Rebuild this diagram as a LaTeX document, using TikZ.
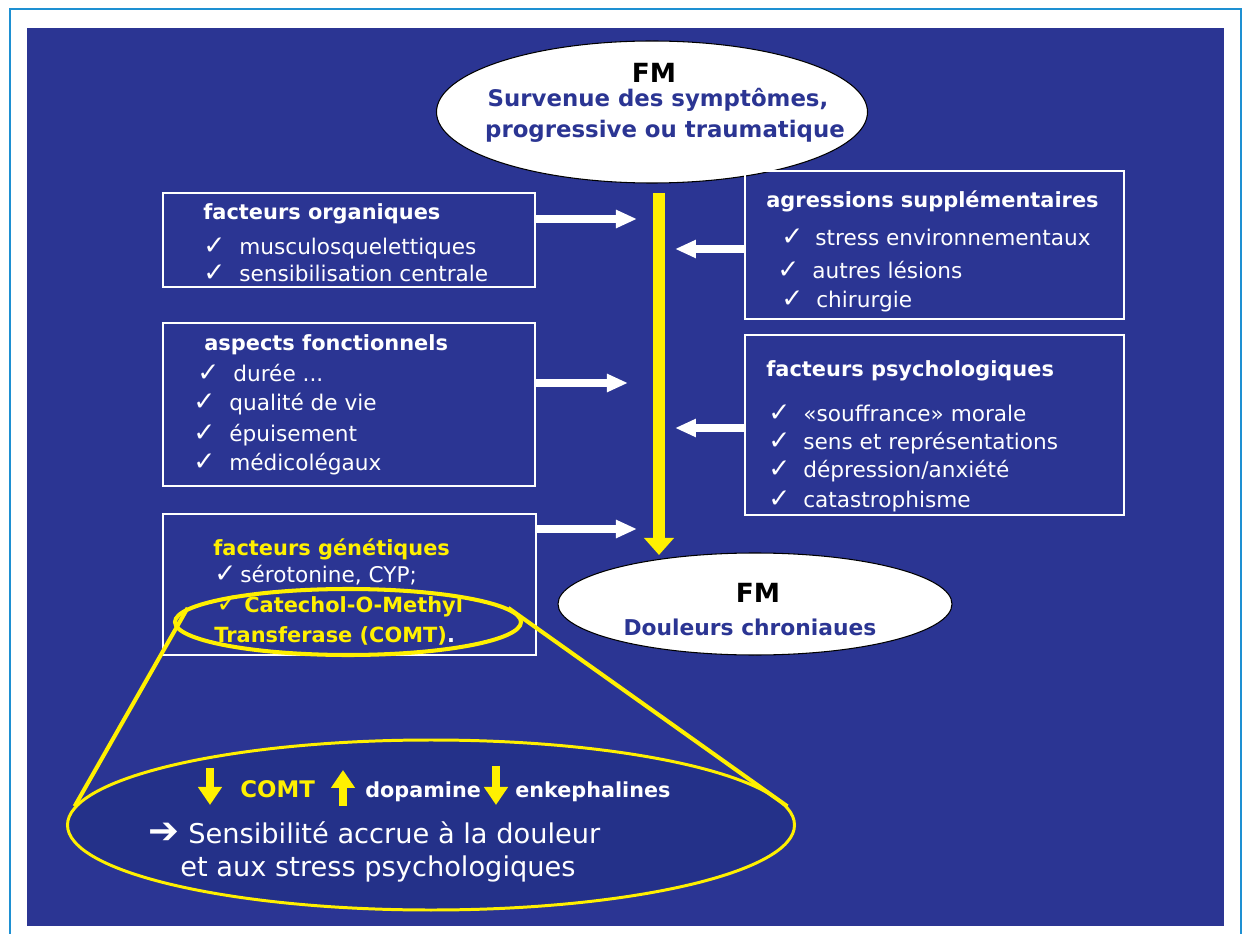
\documentclass[tikz,border=0pt]{standalone}
\usepackage{fontspec}
\setmainfont{DejaVu Sans}
\usepackage{tikz}
\usetikzlibrary{arrows.meta,shapes.geometric}
\definecolor{slide}{RGB}{43,53,147}
\definecolor{lens}{RGB}{36,49,137}
\definecolor{frame}{RGB}{30,144,210}
\definecolor{gold}{RGB}{255,240,0}
\newcommand{\chk}[1][0.72cm]{\makebox[#1][l]{\fontsize{15}{15}\selectfont\mdseries ✓}}

\begin{document}
\begin{tikzpicture}[scale=0.2]
\tikzstyle{every node}+=[inner sep=0pt]
\tikzstyle{box}=[draw=white, line width=0.6pt, rectangle]
\tikzstyle{head}=[anchor=base west, text=white, font=\fontsize{11.9}{14}\selectfont\bfseries]
\tikzstyle{item}=[anchor=base west, text=white, font=\fontsize{12.3}{14}\selectfont]
\tikzstyle{feed}=[white, line width=4.5pt, -{Triangle[length=0.42cm,width=0.34cm]}]
\tikzstyle{shaft}=[gold, line width=6.8pt, -{Triangle[length=0.34cm,width=0.58cm]}]
\tikzstyle{bolt}=[gold, line width=4.8pt, -{Triangle[length=0.36cm,width=0.46cm]}]
\tikzstyle{bubble}=[ellipse, draw=black, fill=white, line width=0.6pt]
\useasboundingbox (0,0) rectangle (124.7,-93.4);
\fill [white] (0,0) rectangle (124.7,-93.4);
\draw [frame, line width=0.9pt] (1.0,-93.4) |- (124.1,-0.9) -- (124.1,-93.4);
\fill [slide] (2.7,-2.8) rectangle (122.4,-92.6);

\node [bubble, minimum width=8.62cm, minimum height=2.84cm] (onset) at (65.2,-11.2) {};
\node [anchor=base, font=\fontsize{15}{18}\selectfont\bfseries] (fm1) at (65.4,-8.3) {FM};
\node [anchor=base, text=slide, font=\fontsize{13}{16}\selectfont\bfseries] (sv1) at (65.8,-10.7) {Survenue des symptômes,};
\node [anchor=base, text=slide, font=\fontsize{13}{16}\selectfont\bfseries] (sv2) at (66.5,-13.8) {progressive ou traumatique};

\node [box, minimum width=7.44cm, minimum height=1.88cm] (orga) at (34.9,-24.0) {};
\node [head] (orgah) at (20.3,-22.0) {facteurs organiques};
\node [item] (orga1) at (20.3,-25.5) {\chk musculosquelettiques};
\node [item] (orga2) at (20.3,-28.2) {\chk sensibilisation centrale};

\node [box, minimum width=7.44cm, minimum height=3.26cm] (fonct) at (34.9,-40.45) {};
\node [head] (fonch) at (20.4,-35.1) {aspects fonctionnels};
\node [item] (fonc1) at (19.7,-38.2) {\chk durée ...};
\node [item] (fonc2) at (19.3,-41.1) {\chk qualité de vie};
\node [item] (fonc3) at (19.3,-44.1) {\chk épuisement};
\node [item] (fonc4) at (19.3,-47.0) {\chk médicolégaux};

\node [box, minimum width=7.46cm, minimum height=2.82cm] (genet) at (34.95,-58.45) {};
\node [head, text=gold] (genh) at (21.3,-55.5) {facteurs génétiques};
\node [item] (gen1) at (21.4,-58.2) {\chk[0.52cm]sérotonine, CYP;};
\node [head, text=gold] (gen2) at (21.6,-61.2) {\chk[0.56cm]Catechol-O-Methyl};
\node [head, text=gold] (gen3) at (21.4,-64.2) {Transferase (COMT)\textcolor{white}{.}};

\node [box, minimum width=7.58cm, minimum height=2.96cm] (agress) at (93.45,-24.5) {};
\node [head] (aggh) at (76.6,-20.8) {agressions supplémentaires};
\node [item] (agg1) at (78.1,-24.6) {\chk[0.68cm]stress environnementaux};
\node [item] (agg2) at (77.7,-27.9) {\chk[0.7cm]autres lésions};
\node [item] (agg3) at (78.1,-30.8) {\chk[0.7cm]chirurgie};

\node [box, minimum width=7.58cm, minimum height=3.6cm] (psycho) at (93.45,-42.5) {};
\node [head] (psyh) at (76.6,-37.7) {facteurs psychologiques};
\node [item] (psy1) at (76.8,-42.2) {\chk[0.7cm]«souffrance» morale};
\node [item] (psy2) at (76.8,-45.0) {\chk[0.7cm]sens et représentations};
\node [item] (psy3) at (76.8,-47.8) {\chk[0.7cm]dépression/anxiété};
\node [item] (psy4) at (76.8,-50.7) {\chk[0.7cm]catastrophisme};

\coordinate (src) at (65.9,-19.3);
\coordinate (snk) at (65.9,-55.5);
\draw [shaft] (src) -- (snk);

\coordinate (orgat) at (63.7,-21.9);
\coordinate (aggt) at (67.5,-24.9);
\coordinate (fonct2) at (62.8,-38.3);
\coordinate (psyt) at (67.5,-42.8);
\coordinate (gent) at (63.7,-52.9);
\draw [feed] (orga.east |- orgat) -- (orgat);
\draw [feed] (agress.west |- aggt) -- (aggt);
\draw [feed] (fonct.east |- fonct2) -- (fonct2);
\draw [feed] (psycho.west |- psyt) -- (psyt);
\draw [feed] (genet.east |- gent) -- (gent);

\node [bubble, minimum width=7.88cm, minimum height=2.04cm] (pain) at (75.5,-60.4) {};
\node [anchor=base, font=\fontsize{15}{18}\selectfont\bfseries] (fm2) at (75.8,-60.2) {FM};
\node [anchor=base, text=slide, font=\fontsize{12.4}{15}\selectfont\bfseries] (dc) at (75.0,-63.5) {Douleurs chroniaues};

\node [ellipse, draw=gold, line width=2.3pt, minimum width=6.92cm, minimum height=1.32cm] (comtring) at (34.8,-62.2) {};
\node [ellipse, draw=gold, fill=lens, line width=1.7pt, minimum width=14.54cm, minimum height=3.4cm] (effect) at (43.1,-82.5) {};
\draw [gold, line width=2.3pt] (comtring.175) -- (effect.177);
\draw [gold, line width=2.3pt] (comtring.5) -- (effect.3);

\coordinate (d1a) at (21.0,-76.8);
\coordinate (d1b) at (21.0,-80.5);
\coordinate (u1a) at (34.3,-80.6);
\coordinate (u1b) at (34.3,-77.0);
\coordinate (d2a) at (49.6,-76.6);
\coordinate (d2b) at (49.6,-80.5);
\draw [bolt] (d1a) -- (d1b);
\draw [bolt] (u1a) -- (u1b);
\draw [bolt] (d2a) -- (d2b);
\node [anchor=base west, text=gold, font=\fontsize{13}{16}\selectfont\bfseries] (comt) at (24.0,-79.7) {COMT};
\node [anchor=base west, text=white, font=\fontsize{11.8}{14}\selectfont\bfseries] (dopa) at (36.5,-79.7) {dopamine};
\node [anchor=base west, text=white, font=\fontsize{11.8}{14}\selectfont\bfseries] (enk) at (51.5,-79.7) {enkephalines};
\node [anchor=base west, text=white, font=\fontsize{15.5}{18}\selectfont] (sens1) at (14.8,-84.3) {\makebox[0.8cm][l]{\fontsize{21}{21}\selectfont ➔}Sensibilité accrue à la douleur};
\node [anchor=base west, text=white, font=\fontsize{15.5}{18}\selectfont] (sens2) at (18.0,-87.6) {et aux stress psychologiques};
\end{tikzpicture}
\end{document}
